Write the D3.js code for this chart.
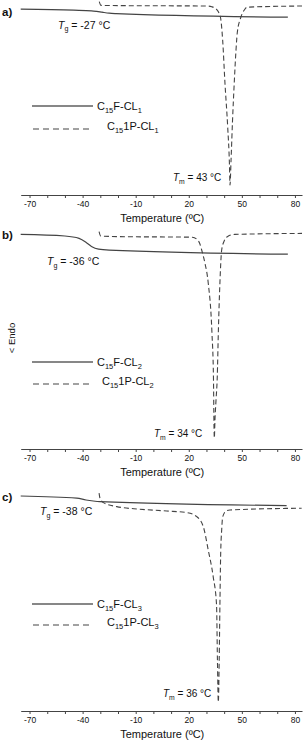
<!DOCTYPE html>
<html>
<head>
<meta charset="utf-8">
<script src="https://cdn.jsdelivr.net/npm/d3@7"></script>
<style>
body { margin: 0; background: #fff; }
text { font-family: "Liberation Sans", Arial, sans-serif; fill: #111; }
</style>
</head>
<body>
<div id="chart"></div>
<script>
// DSC traces, temperature (C) and heat flow (arb. units, endo down)
var tempF1 = [-75, -45, -35, -32, -29, -25, -21, 76];
var flowF1 = [9.29, 9.24, 9.21, 9.18, 9.14, 9.09, 9.07, 8.89];
var tempP1 = [-30.6, -29.6, -20, 30, 33, 35, 36.8, 38.0, 39.15, 40.45, 42.0, 43.0, 43.3, 43.9, 44.7, 45.7, 46.7, 47.4, 49.3, 51.4, 53, 84];
var flowP1 = [9.67, 9.48, 9.47, 9.45, 9.41, 9.33, 9.15, 8.85, 7.75, 5.60, 3.40, 1.50, 0.50, 1.75, 3.65, 5.60, 7.25, 8.10, 8.85, 9.25, 9.39, 9.45];

var tempF2 = [-75, -50, -42, -38, -35, -31, -25, 76];
var flowF2 = [10.73, 10.65, 10.53, 10.33, 10.13, 9.99, 9.94, 9.74];
var tempP2 = [-30.7, -29.8, -20, 22, 25, 26.3, 27.3, 29, 31, 33.1, 33.95, 34.25, 34.45, 34.8, 35.4, 36.1, 36.7, 37.6, 38.6, 40, 42, 46, 84];
var flowP2 = [10.87, 10.65, 10.62, 10.59, 10.45, 10.25, 9.95, 9.35, 8.30, 5.80, 3.60, 1.20, 0.55, 1.45, 2.45, 3.60, 5.80, 8.30, 9.95, 10.40, 10.63, 10.73, 10.78];

var tempF3 = [-75, -43.3, -38.1, -34, -30.2, 75.3];
var flowF3 = [10.75, 10.64, 10.55, 10.50, 10.47, 10.27];
var tempP3 = [-30.7, -30.2, -28.3, -20.7, -7.6, 7.5, 18.8, 24.5, 28.2, 31.0, 33.8, 35.7, 36.2, 36.7, 37.2, 37.6, 38.0, 38.6, 39.2, 41.4, 43.3, 83.8];
var flowP3 = [10.89, 10.64, 10.42, 10.22, 10.09, 10.00, 9.92, 9.72, 9.22, 8.05, 6.72, 5.30, 2.55, 0.45, 2.55, 5.30, 7.72, 9.05, 9.72, 10.02, 10.05, 10.14];

var panelLetters = ["a)", "b)", "c)"];
var seriesIndex = ["1", "2", "3"];
var tgValues = ["-27", "-36", "-38"];
var tmValues = ["43", "34", "36"];
var tickLabels = [-70, -40, -10, 20, 50, 80];
var tickMarks = d3.range(-70, 81, 10);

// layout only
var panels = [
    { axisY: 195, letterY: 16, tgX: 58, tgY: 28.5, legY1: 106, legY2: 129, lab2X: 107, tmX: 173, tmY: 181 },
    { axisY: 449, letterY: 239, tgX: 47, tgY: 265, legY1: 362, legY2: 384, lab2X: 102, tmX: 154, tmY: 437 },
    { axisY: 711, letterY: 501, tgX: 40, tgY: 515, legY1: 604, legY2: 625, lab2X: 107, tmX: 163, tmY: 697 }
];
var traces = [
    [tempF1, flowF1, tempP1, flowP1],
    [tempF2, flowF2, tempP2, flowP2],
    [tempF3, flowF3, tempP3, flowP3]
];

var width = 304, height = 741;
var svg = d3.select("#chart").append("svg")
    .attr("width", width)
    .attr("height", height);

var x = d3.scaleLinear().domain([-75, 84]).range([20.7, 302]);

function zip(t, v) {
    return t.map(function(d, i) { return { t: d, v: v[i] }; });
}

function label(g, px, py, size, parts) {
    // parts: [text, sub?, italic?]
    var txt = g.append("text").attr("x", px).attr("y", py).attr("font-size", size);
    var shift = 0;
    parts.forEach(function(p) {
        var ts = txt.append("tspan").text(p[0]);
        if (p[1]) {
            ts.attr("font-size", size * 0.68).attr("dy", 2.6 - shift);
            shift = 2.6;
        } else {
            ts.attr("dy", -shift);
            shift = 0;
        }
        if (p[2]) ts.attr("font-style", "italic");
    });
    return txt;
}

panels.forEach(function(p, i) {
    var g = svg.append("g");
    var y = d3.scaleLinear().domain([0, 11]).range([p.axisY, p.axisY - 220]);
    var line = d3.line()
        .x(function(d) { return x(d.t); })
        .y(function(d) { return y(d.v); })
        .curve(d3.curveMonotoneX);

    g.append("path")
        .datum(zip(traces[i][0], traces[i][1]))
        .attr("d", line)
        .style("fill", "none")
        .style("stroke", "#444")
        .style("stroke-width", 1.2);

    g.append("path")
        .datum(zip(traces[i][2], traces[i][3]))
        .attr("d", line)
        .style("fill", "none")
        .style("stroke", "#444")
        .style("stroke-width", 1.1)
        .style("stroke-dasharray", "5,3");

    var axis = d3.axisBottom(x)
        .tickValues(tickMarks)
        .tickSize(3)
        .tickSizeOuter(0)
        .tickFormat(function(d) { return tickLabels.indexOf(d) >= 0 ? String(d) : ""; });
    var ag = g.append("g").attr("transform", "translate(0," + p.axisY + ")").call(axis);
    ag.select(".domain").style("stroke", "#444").style("stroke-width", 1.2);
    ag.selectAll(".tick line").style("stroke", "#444");
    ag.selectAll(".tick text")
        .style("font-family", "'Liberation Sans', Arial, sans-serif")
        .style("font-size", "8.5px")
        .style("fill", "#111");

    g.append("text")
        .attr("x", x(5))
        .attr("y", p.axisY + 27)
        .attr("text-anchor", "middle")
        .attr("font-size", 11)
        .text("Temperature (ºC)");

    g.append("text")
        .attr("x", 2)
        .attr("y", p.letterY)
        .attr("font-size", 11.5)
        .attr("font-weight", "bold")
        .text(panelLetters[i]);

    label(g, p.tgX, p.tgY, 10.5, [["T", false, true], ["g", true], [" = " + tgValues[i] + " °C"]]);
    label(g, p.tmX, p.tmY, 10, [["T", false, true], ["m", true], [" = " + tmValues[i] + " °C"]]);

    // legend
    g.append("line").attr("x1", 32).attr("x2", 93).attr("y1", p.legY1).attr("y2", p.legY1)
        .style("stroke", "#111").style("stroke-width", 1.2);
    g.append("line").attr("x1", 33).attr("x2", 93).attr("y1", p.legY2).attr("y2", p.legY2)
        .style("stroke", "#444").style("stroke-width", 1.1).style("stroke-dasharray", "6,4");
    label(g, 97, p.legY1 + 4, 11, [["C"], ["15", true], ["F-CL"], [seriesIndex[i], true]]);
    label(g, p.lab2X, p.legY2 + 1, 11, [["C"], ["15", true], ["1P-CL"], [seriesIndex[i], true]]);

    if (i == 1) {
        g.append("text")
            .attr("transform", "translate(15,338) rotate(-90)")
            .attr("text-anchor", "middle")
            .attr("font-size", 9.5)
            .text("< Endo");
    }
});
</script>
</body>
</html>
